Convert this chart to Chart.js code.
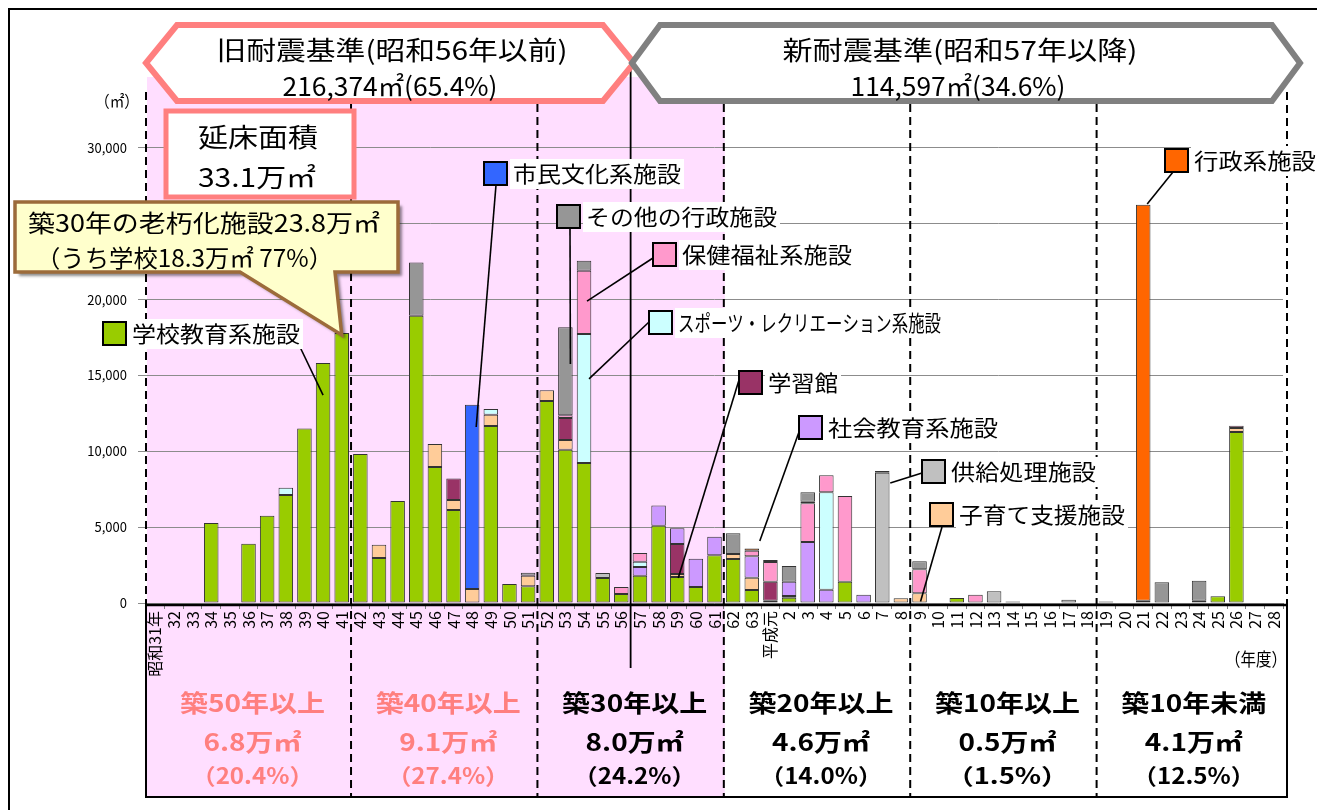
<!doctype html>
<html lang="ja">
<head>
<meta charset="utf-8">
<title>築年別整備状況</title>
<script src="https://cdn.jsdelivr.net/npm/chart.js"></script>
<style>
  html, body { margin: 0; padding: 0; background: #fff; }
</style>
</head>
<body>
<canvas id="myChart" width="1317" height="810"></canvas>
<script>
// 年度（x軸）
const years = ['昭和31年','32','33','34','35','36','37','38','39','40','41',
  '42','43','44','45','46','47','48','49','50','51',
  '52','53','54','55','56','57','58','59','60','61',
  '62','63','平成元','2','3','4','5','6','7','8',
  '9','10','11','12','13','14','15','16','17','18',
  '19','20','21','22','23','24','25','26','27','28'];

// 延床面積（㎡）施設分類別
const school     = [0,0,0,5270,0,3910,5750,7120,11510,15820,17800, 9820,2970,6720,18940,8960,6130,0,11670,1250,1100, 13310,10100,9230,1650,590,1800,5100,1710,1050,3140, 2900,860,0,350,0,0,1400,0,0,0, 0,0,330,0,0,0,0,0,0,0, 100,0,150,0,0,150,440,11270,0,0];
const childcare  = [0,0,0,0,0,0,0,0,0,0,0, 0,870,0,0,1520,660,920,740,0,700, 710,640,0,0,0,0,0,200,0,0, 330,810,150,110,0,0,0,0,0,310, 640,0,0,0,0,0,0,0,0,0, 0,0,0,0,0,0,0,270,0,0];
const gakushukan = [0,0,0,0,0,0,0,0,0,0,0, 0,0,0,0,0,1420,0,0,0,0, 0,1450,0,0,0,0,0,1980,0,0, 0,0,1250,0,0,0,0,0,0,0, 0,0,0,0,0,0,0,0,0,0, 0,0,0,0,0,0,0,0,0,0];
const socialEdu  = [0,0,0,0,0,0,0,0,0,0,0, 0,0,0,0,0,0,0,0,0,0, 0,0,0,0,0,570,1330,1030,1870,1230, 0,1410,0,940,4020,880,0,550,0,0, 0,0,0,0,0,0,0,0,0,0, 0,0,0,0,0,0,0,0,0,0];
const sports     = [0,0,0,0,0,0,0,480,0,0,0, 0,0,0,0,0,0,0,380,0,0, 0,0,8500,0,0,350,0,0,0,0, 0,0,0,0,0,6420,0,0,0,0, 0,0,0,0,0,0,0,0,0,0, 0,0,0,0,0,0,0,0,0,0];
const welfare    = [0,0,0,0,0,0,0,0,0,0,0, 0,0,0,0,0,0,0,0,0,0, 0,180,4170,0,460,580,0,0,0,0, 0,370,1300,0,2550,1120,5650,0,0,0, 1580,0,0,550,0,0,0,0,0,0, 0,0,0,0,0,0,0,150,0,0];
const supply     = [0,0,0,0,0,0,0,0,0,0,0, 0,0,0,0,0,0,0,0,0,0, 0,0,0,330,0,0,0,0,0,0, 0,0,0,0,0,0,0,0,8590,0, 0,0,0,0,770,0,0,0,220,0, 0,0,0,0,0,0,0,0,0,0];
const admin      = [0,0,0,0,0,0,0,0,0,0,0, 0,0,0,0,0,0,0,0,0,0, 0,0,0,0,0,0,0,0,0,0, 0,150,140,0,110,0,0,0,110,0, 0,0,0,0,0,0,0,0,0,0, 0,0,26100,0,0,0,0,0,0,0];
const otherAdmin = [0,0,0,0,0,0,0,0,0,0,0, 0,0,0,3510,0,0,0,0,0,200, 0,5800,660,0,0,0,0,0,0,0, 1360,0,0,1040,620,0,0,0,0,0, 530,0,0,0,0,100,0,0,0,0, 0,0,0,1360,0,1320,0,0,0,0];
const culture    = [0,0,0,0,0,0,0,0,0,0,0, 0,0,0,0,0,0,12150,0,0,0, 0,0,0,0,0,0,0,0,0,0, 0,0,0,0,0,0,0,0,0,0, 0,0,0,0,0,0,0,0,0,0, 0,0,0,0,0,0,0,0,0,0];

// 下段の築年数区分
const ageLabels = ['築50年以上','築40年以上','築30年以上','築20年以上','築10年以上','築10年未満'];
const ageArea   = ['6.8万㎡','9.1万㎡','8.0万㎡','4.6万㎡','0.5万㎡','4.1万㎡'];
const agePct    = ['（20.4%）','（27.4%）','（24.2%）','（14.0%）','（1.5%）','（12.5%）'];

const series = [
  {label:'学校教育系施設', data: school, color:'#99CC00'},
  {label:'子育て支援施設', data: childcare, color:'#FFCC99'},
  {label:'学習館', data: gakushukan, color:'#993366'},
  {label:'社会教育系施設', data: socialEdu, color:'#CC99FF'},
  {label:'スポーツ・レクリエーション系施設', data: sports, color:'#CCFFFF'},
  {label:'保健福祉系施設', data: welfare, color:'#FF99CC'},
  {label:'供給処理施設', data: supply, color:'#C0C0C0'},
  {label:'行政系施設', data: admin, color:'#FF6600'},
  {label:'その他の行政施設', data: otherAdmin, color:'#969696'},
  {label:'市民文化系施設', data: culture, color:'#3366FF'}
];
const colorOf = {};
series.forEach(s => colorOf[s.label] = s.color);

// 吹き出し（ラベル位置はpx、指す先は棒のカテゴリ・値）
const callouts = [
  {name:'学校教育系施設', sq:[103,322], tw:168, from:[300,347], to:{i:9, v:13700, dx:0}},
  {name:'市民文化系施設', sq:[484,162], tw:168, from:[496,185], to:{i:17, v:11600, dx:4}},
  {name:'その他の行政施設', sq:[557,205], tw:191, from:[570,228], to:{i:22, v:15750, dx:5}},
  {name:'保健福祉系施設', sq:[653,243], tw:170, from:[653,258], to:{i:23, v:19900, dx:3}},
  {name:'スポーツ・レクリエーション系施設', sq:[649,311], tw:263, from:[649,322], to:{i:23, v:14770, dx:5}},
  {name:'学習館', sq:[739,371], tw:70, from:[739,380], to:{i:28, v:1650, dx:1}},
  {name:'社会教育系施設', sq:[799,416], tw:170, from:[799,432], to:{i:32, v:4090, dx:8}},
  {name:'供給処理施設', sq:[922,460], tw:145, from:[922,473], to:{i:39, v:7910, dx:8}},
  {name:'子育て支援施設', sq:[930,503], tw:166, from:[942,527], to:{i:41, v:100, dx:1}},
  {name:'行政系施設', sq:[1165,149], tw:122, from:[1173,172], to:{i:53, v:26300, dx:4}}
];

const JP = '"Noto Sans CJK JP", "DejaVu Sans", sans-serif';
Chart.defaults.font.family = JP;
Chart.defaults.color = '#000';

// 横幅を合わせて文字を描く
function fitText(ctx, txt, x, y, w, font, color, align) {
  ctx.save();
  ctx.font = font;
  ctx.fillStyle = color;
  ctx.textBaseline = 'middle';
  ctx.textAlign = 'left';
  const m = ctx.measureText(txt).width;
  const s = w / m;
  const x0 = align === 'center' ? x - w / 2 : x;
  ctx.translate(x0, y);
  ctx.scale(s, 1);
  ctx.fillText(txt, 0, 0);
  ctx.restore();
}

function hexagon(ctx, l, r, top, bot, inset, stroke) {
  const mid = (top + bot) / 2;
  ctx.save();
  ctx.beginPath();
  ctx.moveTo(l, mid);
  ctx.lineTo(l + inset, top);
  ctx.lineTo(r - inset, top);
  ctx.lineTo(r, mid);
  ctx.lineTo(r - inset, bot);
  ctx.lineTo(l + inset, bot);
  ctx.closePath();
  ctx.fillStyle = '#fff';
  ctx.fill();
  ctx.lineWidth = 6;
  ctx.lineJoin = 'miter';
  ctx.strokeStyle = stroke;
  ctx.stroke();
  ctx.restore();
}

const decor = {
  id: 'decor',
  beforeDraw(chart) {
    const {ctx, chartArea: a} = chart;
    const w = (a.right - a.left) / years.length;
    ctx.save();
    ctx.fillStyle = '#fff';
    ctx.fillRect(0, 0, chart.width, chart.height);
    // 旧耐震基準の範囲（ピンク）
    ctx.fillStyle = '#FFDEFF';
    ctx.fillRect(a.left + 1, 77, w * 31, 797 - 77);
    // 外枠
    ctx.strokeStyle = '#000';
    ctx.lineWidth = 2;
    ctx.strokeRect(9, 9, 1340, 840);
    ctx.restore();
  },
  beforeDatasetsDraw(chart) {
    const {ctx, chartArea: a} = chart;
    const w = (a.right - a.left) / years.length;
    ctx.save();
    ctx.strokeStyle = '#000';
    ctx.lineWidth = 2;
    ctx.setLineDash([8, 5]);
    [0, 11, 21, 31, 41, 51, 61].forEach(b => {
      let bx = a.left + b * w;
      if (b === 61) bx += 4;
      const top = (b === 0 || b === 61) ? 92 : 104;
      const bot = (b === 0 || b === 61) ? 605 : 797;
      ctx.beginPath();
      ctx.moveTo(bx, top);
      ctx.lineTo(bx, bot);
      ctx.stroke();
    });
    ctx.restore();
  },
  afterDraw(chart) {
    const {ctx, chartArea: a, scales: {x, y}} = chart;
    const w = (a.right - a.left) / years.length;
    ctx.save();

    // x軸・表の枠
    ctx.strokeStyle = '#000';
    ctx.lineWidth = 2.5;
    ctx.beginPath();
    ctx.moveTo(a.left, a.bottom + 2);
    ctx.lineTo(a.right + 5, a.bottom + 2);
    ctx.stroke();
    ctx.lineWidth = 2;
    ctx.beginPath();
    ctx.moveTo(a.left, a.bottom + 2);
    ctx.lineTo(a.left, 797);
    ctx.lineTo(a.right + 4, 797);
    ctx.lineTo(a.right + 4, a.bottom + 2);
    ctx.stroke();

    // 昭和56/57の境界（実線）
    const b26 = a.left + 26 * w;
    ctx.lineWidth = 1.8;
    ctx.beginPath();
    ctx.moveTo(b26, 63);
    ctx.lineTo(b26, 668);
    ctx.stroke();

    // 上部の見出し
    hexagon(ctx, 146, 634, 25, 101, 31, '#FF7F7F');
    hexagon(ctx, 632, 1300, 25, 101, 28, '#808080');
    fitText(ctx, '旧耐震基準(昭和56年以前)', 392, 50, 351, '26px ' + JP, '#000', 'center');
    fitText(ctx, '216,374㎡(65.4%)', 390, 86, 215, '26px ' + JP, '#000', 'center');
    fitText(ctx, '新耐震基準(昭和57年以降)', 960, 50, 355, '26px ' + JP, '#000', 'center');
    fitText(ctx, '114,597㎡(34.6%)', 958, 86, 215, '26px ' + JP, '#000', 'center');

    // 延床面積の枠
    ctx.fillStyle = '#fff';
    ctx.fillRect(166, 111, 188, 86);
    ctx.strokeStyle = '#FF7F7F';
    ctx.lineWidth = 5;
    ctx.strokeRect(166, 111, 188, 86);
    fitText(ctx, '延床面積', 258, 137, 120, '26px ' + JP, '#000', 'center');
    fitText(ctx, '33.1万㎡', 257, 177, 118, '26px ' + JP, '#000', 'center');

    // 単位
    fitText(ctx, '（㎡）', 117, 101, 44, '16px ' + JP, '#000', 'center');
    fitText(ctx, '（年度）', 1256, 659, 62, '18px ' + JP, '#000', 'center');

    // 黄色の吹き出し（先端は昭和41年の棒の上）
    const tipX = x.getPixelForValue(10);
    const tipY = y.getPixelForValue(school[10]);
    ctx.save();
    ctx.beginPath();
    ctx.moveTo(15, 202);
    ctx.lineTo(398, 202);
    ctx.lineTo(398, 272);
    ctx.lineTo(335, 272);
    ctx.lineTo(tipX, tipY + 2);
    ctx.lineTo(240, 272);
    ctx.lineTo(15, 272);
    ctx.closePath();
    ctx.shadowColor = 'rgba(0,0,0,0.45)';
    ctx.shadowOffsetX = 4;
    ctx.shadowOffsetY = 4;
    ctx.shadowBlur = 3;
    ctx.fillStyle = '#FFFFCC';
    ctx.fill();
    ctx.shadowColor = 'transparent';
    ctx.strokeStyle = '#9C6B3A';
    ctx.lineWidth = 3.5;
    ctx.lineJoin = 'miter';
    ctx.stroke();
    ctx.restore();
    fitText(ctx, '築30年の老朽化施設23.8万㎡', 28, 223, 352, '24px ' + JP, '#000', 'left');
    fitText(ctx, '（うち学校18.3万㎡ 77%）', 36, 258, 297, '24px ' + JP, '#000', 'left');

    // 凡例の吹き出し
    callouts.forEach(c => {
      const tx = x.getPixelForValue(c.to.i) + c.to.dx;
      const ty = y.getPixelForValue(c.to.v);
      ctx.strokeStyle = '#000';
      ctx.lineWidth = 1.6;
      ctx.beginPath();
      ctx.moveTo(c.from[0], c.from[1]);
      ctx.lineTo(tx, ty);
      ctx.stroke();
      const textX = c.sq[0] + 29;
      const cy = c.sq[1] + 12;
      ctx.fillStyle = '#fff';
      ctx.fillRect(textX - 3, cy - 15, c.tw + 6, 30);
      ctx.fillStyle = colorOf[c.name];
      ctx.fillRect(c.sq[0], c.sq[1], 23, 23);
      ctx.lineWidth = 2;
      ctx.strokeRect(c.sq[0], c.sq[1], 23, 23);
      fitText(ctx, c.name, textX, cy, c.tw, '22px ' + JP, '#000', 'left');
    });

    // 下段の表
    const bounds = [0, 11, 21, 31, 41, 51, 61];
    ageLabels.forEach((lab, k) => {
      const cx = a.left + (bounds[k] + bounds[k + 1]) / 2 * w + 4;
      const col = k < 2 ? '#FF7F7F' : '#000';
      fitText(ctx, lab, cx, 703, 145, 'bold 24px ' + JP, col, 'center');
      fitText(ctx, ageArea[k], cx, 742, 98, 'bold 24px ' + JP, col, 'center');
      fitText(ctx, agePct[k], cx, 776, 122, 'bold 22px ' + JP, col, 'center');
    });
    ctx.restore();
  }
};

new Chart(document.getElementById('myChart'), {
  type: 'bar',
  data: {
    labels: years,
    datasets: series.map(s => ({
      label: s.label,
      data: s.data.map(v => v || null),
      backgroundColor: s.color,
      borderColor: '#333',
      borderWidth: 1,
      borderSkipped: false,
      categoryPercentage: 1,
      barPercentage: 0.78
    }))
  },
  options: {
    responsive: false,
    animation: false,
    layout: {padding: {left: 0, top: 72, right: 34, bottom: 0}},
    plugins: {legend: {display: false}, tooltip: {enabled: false}},
    scales: {
      x: {
        stacked: true,
        afterFit: s => { s.height = 207; },
        border: {display: false},
        grid: {display: true, drawOnChartArea: false, tickLength: 6, color: '#808080'},
        ticks: {autoSkip: false, minRotation: 90, maxRotation: 90, padding: 2,
                font: {size: 16}, color: '#000'}
      },
      y: {
        stacked: true,
        min: 0,
        max: 35000,
        afterFit: s => { s.width = 146; },
        border: {display: false},
        grid: {
          color: c => c.tick && c.tick.value === 35000 ? 'rgba(0,0,0,0)' : '#8c8c8c',
          tickLength: 8
        },
        ticks: {
          stepSize: 5000,
          padding: 11,
          font: {size: 13},
          color: '#000',
          callback: v => v === 35000 ? '' : v.toLocaleString('en-US')
        }
      }
    }
  },
  plugins: [decor]
});
</script>
</body>
</html>
